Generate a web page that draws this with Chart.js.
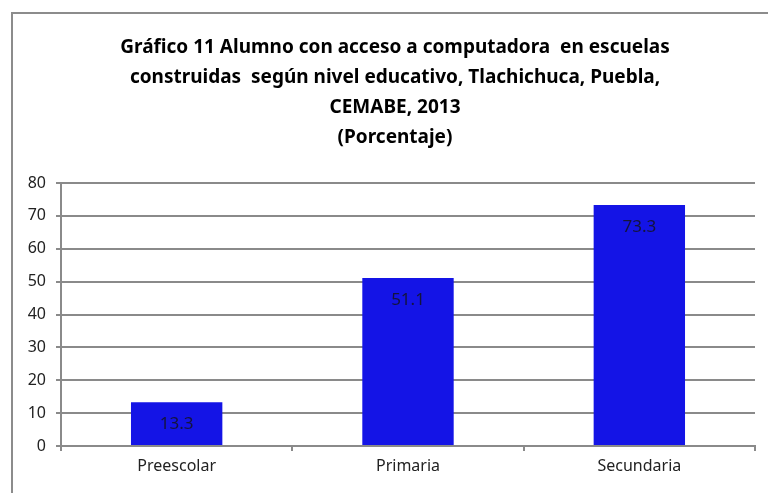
<!DOCTYPE html>
<html>
<head>
<meta charset="utf-8">
<script src="https://cdn.jsdelivr.net/npm/chart.js@4"></script>
<style>
  html, body { margin: 0; padding: 0; background: #fff; }
  #wrap { width: 768px; height: 493px; position: relative; }
</style>
</head>
<body>
<div id="wrap"><canvas id="myChart" width="768" height="493"></canvas></div>
<script>
const categories = ['Preescolar', 'Primaria', 'Secundaria'];
const values = [13.3, 51.1, 73.3];
const titleLines = [
    'Gráfico 11 Alumno con acceso a computadora  en escuelas',
    'construidas  según nivel educativo, Tlachichuca, Puebla,',
    'CEMABE, 2013',
    '(Porcentaje)'
];

const fontFamily = "'Noto Sans', 'Open Sans', sans-serif";
const gridColor = '#8a8a8a';

// grey frame around the whole chart, cut at the right and bottom like the original
const framePlugin = {
    id: 'frame',
    beforeDraw(chart) {
        const ctx = chart.ctx;
        ctx.save();
        ctx.strokeStyle = '#8c8c8c';
        ctx.lineWidth = 2;
        ctx.strokeRect(12, 13, 800, 520);
        ctx.restore();
    }
};

// title block, drawn by hand so it sits where the original one does
const titlePlugin = {
    id: 'titleBlock',
    afterDraw(chart) {
        const ctx = chart.ctx;
        ctx.save();
        ctx.font = 'bold 19px ' + fontFamily;
        ctx.fillStyle = '#000';
        ctx.textAlign = 'center';
        ctx.textBaseline = 'middle';
        titleLines.forEach(function (line, i) {
            ctx.fillText(line, 395, 48 + i * 29.7);
        });
        ctx.restore();
    }
};

// value labels inside the top of each bar
const valueLabels = {
    id: 'valueLabels',
    afterDatasetsDraw(chart) {
        const ctx = chart.ctx;
        const meta = chart.getDatasetMeta(0);
        ctx.save();
        ctx.font = '17px ' + fontFamily;
        ctx.fillStyle = '#14143c';
        ctx.textAlign = 'center';
        ctx.textBaseline = 'middle';
        meta.data.forEach(function (bar, i) {
            ctx.fillText(values[i].toFixed(1), bar.x, bar.y + 22);
        });
        ctx.restore();
    }
};

new Chart(document.getElementById('myChart'), {
    type: 'bar',
    data: {
        labels: categories,
        datasets: [{
            data: values,
            backgroundColor: '#1414e6',
            borderColor: '#1414e6',
            borderWidth: 0,
            categoryPercentage: 1,
            barPercentage: 0.395
        }]
    },
    options: {
        responsive: false,
        animation: false,
        layout: { padding: { left: 12, right: 13, top: 183, bottom: 0 } },
        plugins: {
            legend: { display: false },
            tooltip: { enabled: false },
            title: { display: false }
        },
        scales: {
            x: {
                grid: {
                    display: true,
                    drawOnChartArea: false,
                    drawTicks: true,
                    tickLength: 5,
                    color: gridColor,
                    lineWidth: 2
                },
                border: { display: true, color: gridColor, width: 2 },
                ticks: {
                    color: '#222',
                    font: { family: fontFamily, size: 16 },
                    padding: 6
                },
                afterFit(scale) { scale.height = 47; }
            },
            y: {
                min: 0,
                max: 80,
                ticks: {
                    stepSize: 10,
                    color: '#222',
                    font: { family: fontFamily, size: 16 },
                    padding: 10
                },
                grid: {
                    color: gridColor,
                    lineWidth: 2,
                    tickLength: 5
                },
                border: { display: true, color: gridColor, width: 2 },
                afterFit(scale) { scale.width = 49; }
            }
        }
    },
    plugins: [framePlugin, titlePlugin, valueLabels]
});
</script>
</body>
</html>
